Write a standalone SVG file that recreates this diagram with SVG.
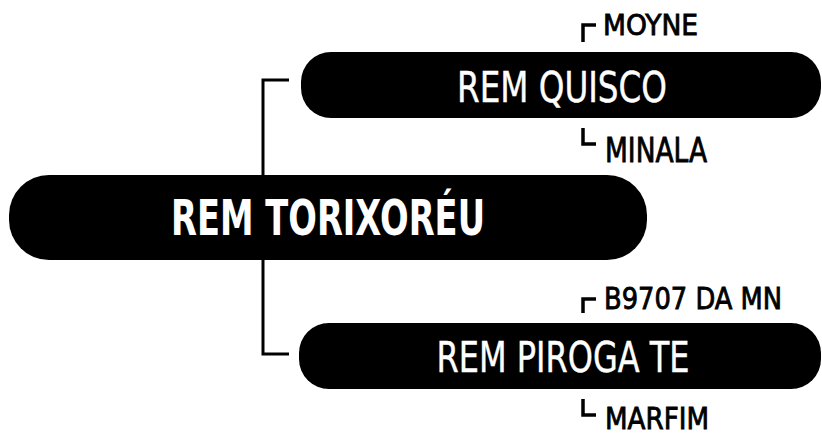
<svg xmlns="http://www.w3.org/2000/svg" width="822" height="437" viewBox="0 0 822 437">
<style>
.pill{fill:#000}
.big{font-family:"Liberation Sans Narrow","DejaVu Sans Condensed","Liberation Sans",sans-serif;fill:#fff;text-anchor:middle}
.lbl{font-family:"Liberation Sans Narrow","DejaVu Sans Condensed","Liberation Sans",sans-serif;fill:#000;stroke:#000;stroke-width:0.8}
.ln{fill:none;stroke:#000;stroke-width:3}
.br{fill:none;stroke:#000;stroke-width:3.5}
</style>
<g id="connectors">
<path class="ln" d="M289,80 H263 V354 H289"/>
</g>
<g id="root">
<rect class="pill" x="9" y="175" width="638" height="85" rx="40" ry="40"/>
<text class="big" x="328" y="235" font-size="50" font-weight="bold" textLength="314" lengthAdjust="spacingAndGlyphs">REM TORIXORÉU</text>
</g>
<g id="quisco">
<rect class="pill" x="301" y="52" width="520" height="66" rx="30" ry="30"/>
<text class="big" x="562" y="102" font-size="42" stroke="#fff" stroke-width="0.4" textLength="210" lengthAdjust="spacingAndGlyphs">REM QUISCO</text>
</g>
<g id="piroga">
<rect class="pill" x="299" y="323" width="522" height="66" rx="30" ry="30"/>
<text class="big" x="563" y="372" font-size="42" stroke="#fff" stroke-width="0.4" textLength="253" lengthAdjust="spacingAndGlyphs">REM PIROGA TE</text>
</g>
<g id="moyne">
<path class="br" d="M583,42 V25 H596"/>
<text class="lbl" x="603" y="35" font-size="29" textLength="95" lengthAdjust="spacingAndGlyphs">MOYNE</text>
</g>
<g id="minala">
<path class="br" d="M583,128 V144 H596"/>
<text class="lbl" x="605" y="162" font-size="33" textLength="102" lengthAdjust="spacingAndGlyphs">MINALA</text>
</g>
<g id="b9707">
<path class="br" d="M583,313 V299 H596"/>
<text class="lbl" x="604" y="309" font-size="30" textLength="178" lengthAdjust="spacingAndGlyphs">B9707 DA MN</text>
</g>
<g id="marfim">
<path class="br" d="M583,399 V415 H596"/>
<text class="lbl" x="605" y="429" font-size="31" textLength="104" lengthAdjust="spacingAndGlyphs">MARFIM</text>
</g>
</svg>
